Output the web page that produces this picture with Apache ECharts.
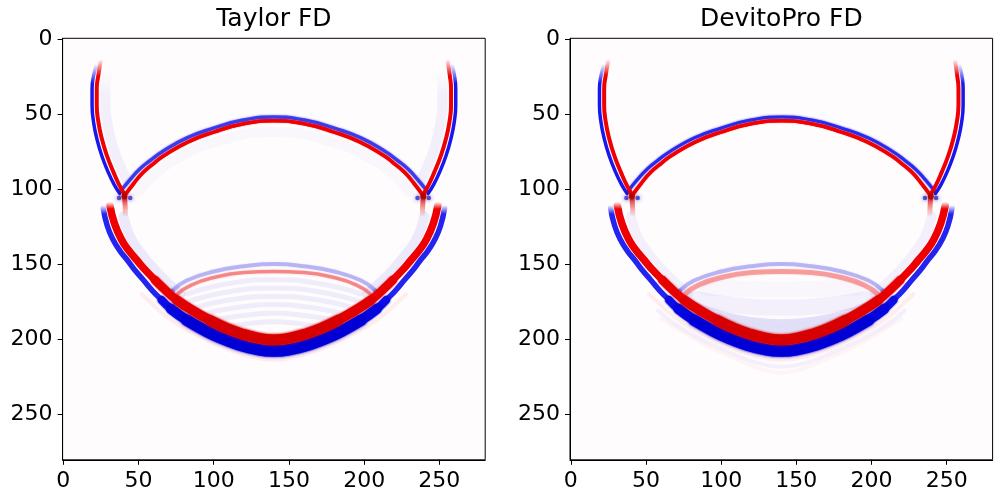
<!DOCTYPE html>
<html>
<head>
<meta charset="utf-8">
<script src="https://cdn.jsdelivr.net/npm/echarts@6/dist/echarts.min.js"></script>
<style>
    html, body { margin: 0; padding: 0; background: #fff; }
    #main { width: 1002px; height: 500px; }
</style>
</head>
<body>
<div id="main"></div>
<script>
// ticks and titles
var tickValues = [0, 50, 100, 150, 200, 250];
var titles = ['Taylor FD', 'DevitoPro FD'];

// wavefronts, [x, depth]
var branchLeftRed = [[41, 104], [37.3, 97.6], [33.3, 88.7], [28.9, 77.6], [25.6, 66.5], [23.3, 55.4], [22.2, 44], [22.2, 33], [23.3, 24], [24.8, 15]];
var branchLeftBlue = [[37.5, 103], [33.8, 97], [29.8, 88.7], [25.5, 77.6], [22.3, 66.5], [20.1, 55.4], [19.1, 44], [19.1, 33], [20.2, 24], [21.8, 18]];
var branchRightRed = [[239, 104], [242.7, 97.6], [246.7, 88.7], [251.1, 77.6], [254.4, 66.5], [256.7, 55.4], [257.8, 44], [257.8, 33], [256.9, 24], [255.6, 15]];
var branchRightBlue = [[242.5, 103], [246.2, 97], [250.2, 88.7], [254.5, 77.6], [257.7, 66.5], [259.9, 55.4], [260.9, 44], [260.9, 33], [260, 24], [258.6, 18]];

var upperRed = [[41, 104], [47, 96], [53.3, 88.7], [60, 83], [67, 77.6], [83, 68.5], [100, 62], [120, 56.5], [140, 54.5], [160, 56.5], [180, 62], [197, 68.5], [213, 77.6], [220, 83], [226.7, 88.7], [233, 96], [239, 104]];
var upperBlue = [[38, 101.5], [44.5, 93.5], [51, 86.5], [58, 80.8], [65.5, 75.3], [81.8, 66.1], [99.3, 59.6], [119.6, 54], [140, 52], [160.4, 54], [180.7, 59.6], [198.2, 66.1], [214.5, 75.3], [222, 80.8], [229, 86.5], [235.5, 93.5], [242, 101.5]];

var lowerRed = [[31, 111], [34, 123], [38.8, 134], [43.5, 141], [48.8, 147.3], [54.5, 154], [60.9, 160.6], [68, 167.5], [75.4, 174], [86, 181], [97.5, 187.5], [108, 192.5], [118, 196.3], [129, 199.2], [140, 200.5],
    [151, 199.2], [162, 196.3], [172, 192.5], [182.5, 187.5], [194, 181], [204.6, 174], [212, 167.5], [219.1, 160.6], [225.5, 154], [231.2, 147.3], [236.5, 141], [241.2, 134], [246, 123], [249, 111]];
var lowerBlue = [[26.5, 112.5], [29.2, 124.5], [33.2, 134], [37.5, 141], [42.5, 147.3], [47.5, 154], [53.2, 160.6], [59, 167.5], [65.4, 174], [71.5, 179.8], [82.1, 187.4], [94.1, 194.2], [105.2, 199.5], [115.8, 203.4], [127.3, 206.6], [140, 208],
    [152.7, 206.6], [164.2, 203.4], [174.8, 199.5], [185.9, 194.2], [197.9, 187.4], [208.5, 179.8], [214.6, 174], [221, 167.5], [226.8, 160.6], [232.5, 154], [237.5, 147.3], [242.5, 141], [246.8, 134], [250.8, 124.5], [253.5, 112.5]];

var innerRed = [[75.8, 170], [85, 164], [100, 159], [120, 155.7], [140, 154.9], [160, 155.7], [180, 159], [195, 164], [204.2, 170]];
var innerBlue = [[72.4, 167.8], [82, 161], [100, 155], [120, 151.5], [140, 150], [160, 151.5], [180, 155], [198, 161], [207.6, 167.8]];

var pinkRing = [[52, 170], [60, 177.5], [68, 184.5], [78, 191.5], [90, 198], [102, 203.8], [114, 208.5], [127, 212.2], [140, 213.8], [153, 212.2], [166, 208.5], [178, 203.8], [190, 198], [202, 191.5], [212, 184.5], [220, 177.5], [228, 170]];
var outerBlueRing = [[58, 181], [68, 189], [80, 196.5], [96, 204.5], [112, 211.5], [126, 216.5], [140, 218.5], [154, 216.5], [168, 211.5], [184, 204.5], [200, 196.5], [212, 189], [222, 181]];
var outerPinkRing = [[60, 186], [72, 194], [86, 202], [100, 209], [116, 216], [128, 220.5], [140, 222.5], [152, 220.5], [164, 216], [180, 209], [194, 202], [208, 194], [220, 186]];

var innerBandLeft = [[40, 118], [44, 131], [51, 142], [60, 153], [70, 163], [78, 170]];
var innerBandRight = [[240, 118], [236, 131], [229, 142], [220, 153], [210, 163], [202, 170]];

var junctionRed = [[40.6, 105], [239.4, 105]];
var junctionBlue = [[37, 106], [44.5, 106], [235.5, 106], [243, 106]];
var junctionTailLeft = [[40.6, 104], [41, 110], [41.3, 117]];
var junctionTailRight = [[239.4, 104], [239, 110], [238.7, 117]];
var innerEnds = [[72.5, 168], [207.5, 168]];

// Taylor only: dispersion ghosts
var ghostLeft = [[44, 97], [37.5, 84], [32.5, 70], [29.5, 57], [28, 44], [28, 32], [29, 24]];
var ghostRight = [[236, 97], [242.5, 84], [247.5, 70], [250.5, 57], [252, 44], [252, 32], [251, 24]];
var ghostUpper = [[50, 102], [60, 91], [75, 80], [100, 69], [140, 62], [180, 69], [205, 80], [220, 91], [230, 102]];
var stripes = [
    [[82, 170], [110, 163], [140, 160.5], [170, 163], [198, 170]],
    [[80, 176], [110, 168.5], [140, 166], [170, 168.5], [200, 176]],
    [[84, 180], [110, 174], [140, 171.6], [170, 174], [196, 180]],
    [[90, 184], [115, 179], [140, 177], [165, 179], [190, 184]],
    [[98, 188], [118, 184.5], [140, 182.7], [162, 184.5], [182, 188]],
    [[108, 192], [125, 189.5], [140, 188.5], [155, 189.5], [172, 192]]
];

// DevitoPro only: smooth fill inside lower front
var fillBands = [
    [[80, 179], [100, 186], [120, 190], [140, 191.5], [160, 190], [180, 186], [200, 179]],
    [[82, 173], [110, 177.5], [140, 179], [170, 177.5], [198, 173]],
    [[90, 166], [115, 166.5], [140, 167], [165, 166.5], [190, 166]]
];

var gridLeft = [62.6, 570];

function fadeTop(color, clear, stop) {
    return {
        type: 'linear', x: 0, y: 0, x2: 0, y2: 1,
        colorStops: [{offset: 0, color: clear}, {offset: stop, color: color}, {offset: 1, color: color}]
    };
}
function fadeBottom(color, clear) {
    return {
        type: 'linear', x: 0, y: 0, x2: 0, y2: 1,
        colorStops: [{offset: 0, color: color}, {offset: 1, color: clear}]
    };
}

function line(p, data, color, width, z, blur) {
    return {
        type: 'line', xAxisIndex: p, yAxisIndex: p, data: data,
        smooth: 0.5, showSymbol: false, symbol: 'none', silent: true, clip: true,
        animation: false, z: z,
        lineStyle: {color: color, width: width, cap: 'round', join: 'round',
            shadowBlur: blur || 0, shadowColor: typeof color === 'string' ? color : 'rgba(0,0,0,0)'}
    };
}
function dots(p, data, color, size, z) {
    return {
        type: 'scatter', xAxisIndex: p, yAxisIndex: p, data: data, symbolSize: size,
        silent: true, animation: false, z: z,
        itemStyle: {color: color, shadowBlur: 4, shadowColor: color}
    };
}

var series = [];
[0, 1].forEach(function (p) {
    var taylor = p === 0;

    // faint halo stuff first
    series.push(line(p, pinkRing, 'rgba(255,90,90,0.09)', 4, 1, 2));
    if (!taylor) {
        series.push(line(p, outerBlueRing, 'rgba(90,90,235,0.07)', 4, 1, 2));
        series.push(line(p, outerPinkRing, 'rgba(255,90,90,0.05)', 4, 1, 2));
        fillBands.forEach(function (b, i) {
            series.push(line(p, b, ['rgba(80,80,230,0.15)', 'rgba(110,110,235,0.08)', 'rgba(140,140,240,0.05)'][i], [14, 16, 16][i], 1, 6));
        });
    } else {
        series.push(line(p, ghostLeft, fadeTop('rgba(90,90,230,0.08)', 'rgba(90,90,230,0)', 0.2), 10, 1));
        series.push(line(p, ghostRight, fadeTop('rgba(90,90,230,0.08)', 'rgba(90,90,230,0)', 0.2), 10, 1));
        series.push(line(p, ghostUpper, 'rgba(90,90,230,0.04)', 10, 1, 4));
        stripes.forEach(function (s) {
            series.push(line(p, s, 'rgba(80,80,225,0.08)', 5, 1, 2));
        });
    }
    series.push(line(p, innerBandLeft, taylor ? 'rgba(90,90,230,0.10)' : 'rgba(90,90,230,0.07)', 10, 1, 4));
    series.push(line(p, innerBandRight, taylor ? 'rgba(90,90,230,0.10)' : 'rgba(90,90,230,0.07)', 10, 1, 4));

    // inner weak front
    series.push(line(p, innerBlue, 'rgba(70,70,230,0.33)', 4, 3, 2));
    series.push(line(p, innerRed, taylor ? 'rgba(238,60,60,0.5)' : 'rgba(240,80,80,0.45)', taylor ? 3.5 : 5, 3, 2));
    series.push(dots(p, innerEnds, 'rgba(70,70,220,0.45)', 5, 4));

    // blue halves of the strong fronts, thickening below the kink
    series.push(line(p, lowerBlue, fadeTop('#2424f0', 'rgba(36,36,240,0)', 0.06), 5.5, 5, 1));
    series.push(line(p, lowerBlue.slice(8, 23), '#0c0ce6', 8, 5, 2));
    series.push(line(p, lowerBlue.slice(9, 22), '#0505de', 10, 5, 2));
    series.push(line(p, lowerBlue.slice(10, 21), '#0000d6', 11.5, 5, 3));
    series.push(line(p, upperBlue, taylor ? 'rgba(40,40,235,0.8)' : '#2a2aee', taylor ? 3.5 : 3, 5, 2));
    series.push(line(p, branchLeftBlue, fadeTop('#1818ee', 'rgba(24,24,238,0)', 0.15), 3.5, 5));
    series.push(line(p, branchRightBlue, fadeTop('#1818ee', 'rgba(24,24,238,0)', 0.15), 3.5, 5));

    // red halves
    series.push(line(p, lowerRed, fadeTop('#ee0000', 'rgba(238,0,0,0)', 0.05), 7.5, 6, 1));
    series.push(line(p, lowerRed.slice(6, 23), '#e80000', 8.5, 6, 2));
    series.push(line(p, lowerRed.slice(8, 21), '#e00000', 9.5, 6, 2));
    series.push(line(p, lowerRed.slice(10, 19), '#d60000', 10.5, 6, 3));
    series.push(line(p, upperRed, '#f00000', 3.5, 6, 1));
    series.push(line(p, branchLeftRed, fadeTop('#f00000', 'rgba(240,0,0,0)', 0.12), 4, 6));
    series.push(line(p, branchRightRed, fadeTop('#f00000', 'rgba(240,0,0,0)', 0.12), 4, 6));

    // junctions where the fronts meet
    series.push(line(p, junctionTailLeft, fadeBottom('#d00000', 'rgba(240,0,0,0)'), 5, 7));
    series.push(line(p, junctionTailRight, fadeBottom('#d00000', 'rgba(240,0,0,0)'), 5, 7));
    series.push(dots(p, junctionBlue, 'rgba(20,20,200,0.85)', 4.5, 7));
    series.push(dots(p, junctionRed, '#b00000', 6, 8));
});

function axisFont() {
    return {fontSize: 22, color: '#000', fontFamily: 'DejaVu Sans', margin: 10};
}

var grids = [], xAxes = [], yAxes = [], titleList = [];
[0, 1].forEach(function (p) {
    grids.push({left: gridLeft[p], top: 38.3, width: 422.6, height: 421.5, show: true,
        backgroundColor: '#fffcfd', borderColor: '#000', borderWidth: 1, containLabel: false});
    var lab = axisFont();
    lab.customValues = tickValues;
    xAxes.push({gridIndex: p, type: 'value', min: -0.5, max: 280.5, position: 'bottom',
        axisLine: {show: true, onZero: false, lineStyle: {color: '#000', width: 1}},
        axisTick: {show: true, length: 5, lineStyle: {color: '#000'}, customValues: tickValues},
        axisLabel: lab, splitLine: {show: false}});
    var labY = axisFont();
    labY.customValues = tickValues;
    yAxes.push({gridIndex: p, type: 'value', min: -0.5, max: 280.5, inverse: true, position: 'left',
        axisLine: {show: true, onZero: false, lineStyle: {color: '#000', width: 1}},
        axisTick: {show: true, length: 5, lineStyle: {color: '#000'}, customValues: tickValues},
        axisLabel: labY, splitLine: {show: false}});
    titleList.push({text: titles[p], left: gridLeft[p] + 211.3, top: 7, textAlign: 'center', padding: 0,
        textStyle: {fontSize: 25, fontWeight: 'normal', color: '#000', fontFamily: 'DejaVu Sans'}});
});

var myChart = echarts.init(document.getElementById('main'));
var option = {
    backgroundColor: '#fff',
    animation: false,
    title: titleList,
    grid: grids,
    xAxis: xAxes,
    yAxis: yAxes,
    series: series
};
myChart.setOption(option);
window.onresize = myChart.resize;
</script>
</body>
</html>
